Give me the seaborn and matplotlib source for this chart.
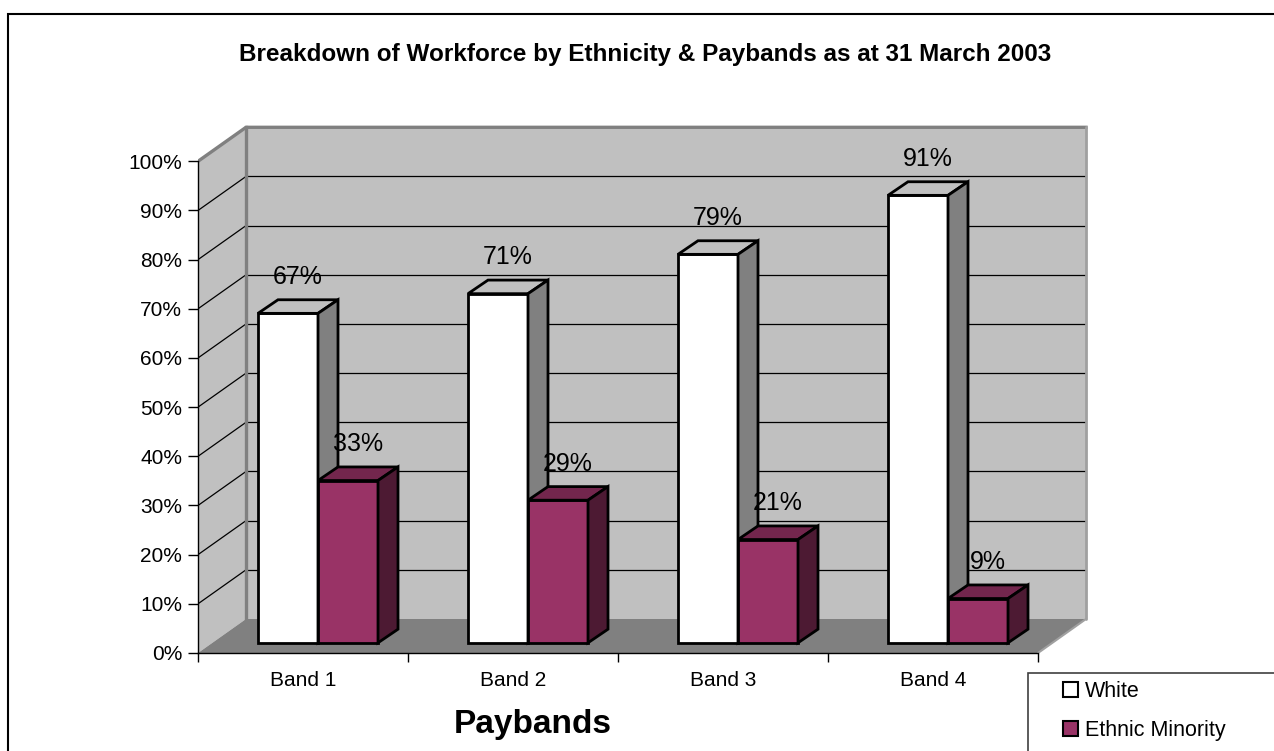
import matplotlib
matplotlib.use("Agg")
import matplotlib.pyplot as plt
import seaborn as sns
import pandas as pd
from matplotlib.patches import Polygon, Rectangle, Patch

# ---------------- data ----------------
bands = ["Band 1", "Band 2", "Band 3", "Band 4"]
series = ["White", "Ethnic Minority"]
white_pct = [67, 71, 79, 91]
minority_pct = [33, 29, 21, 9]
ytick_values = [0, 10, 20, 30, 40, 50, 60, 70, 80, 90, 100]
ytick_labels = [f"{v}%" for v in ytick_values]
title = "Breakdown of Workforce by Ethnicity & Paybands as at 31 March 2003"
xlabel = "Paybands"

df = pd.DataFrame({
    "band": bands * 2,
    "pct": white_pct + minority_pct,
    "group": [series[0]] * len(bands) + [series[1]] * len(bands),
})

front_colors = ["#ffffff", "#993366"]
top_colors = ["#c0c0c0", "#73264d"]
side_colors = ["#808080", "#4d1a33"]

sns.set_style("white")
plt.rcParams["font.family"] = ["Liberation Sans", "DejaVu Sans"]
plt.rcParams["text.color"] = "black"
plt.rcParams["xtick.color"] = "black"
plt.rcParams["ytick.color"] = "black"
plt.rcParams["axes.labelcolor"] = "black"

W, H = 1274, 751
fig = plt.figure(figsize=(W / 100, H / 100), dpi=100)

PX_CAT = 210.0     # pixels per category
PX_PCT = 4.917     # pixels per percent
AX_L, AX_R, AX_B, AX_T = 198, 1100, 653, 110
ax = fig.add_axes([AX_L / W, (H - AX_B) / H, (AX_R - AX_L) / W, (AX_B - AX_T) / H])

# 3D depth offsets in data units
DX = 48 / PX_CAT
DY = 34 / PX_PCT
X0, X1 = -0.5, len(bands) - 0.5
YMAX = ytick_values[-1]

# ---------------- bars via seaborn ----------------
bar_w = 60 / PX_CAT
sns.barplot(data=df, x="band", y="pct", hue="group", order=bands, hue_order=series,
            palette=front_colors, saturation=1, width=2 * bar_w, edgecolor="black",
            linewidth=2, legend=False, ax=ax)

ax.set_xlim(X0, X0 + (AX_R - AX_L) / PX_CAT)
ax.set_ylim(0, (AX_B - AX_T) / PX_PCT)
ax.set_facecolor("none")

# ---------------- walls & floor ----------------
wall_c = "#c0c0c0"
ax.add_patch(Polygon([(X0, 0), (X0, YMAX), (X0 + DX, YMAX + DY), (X0 + DX, DY)],
                     closed=True, facecolor=wall_c, edgecolor="none", zorder=0))
ax.add_patch(Polygon([(X0 + DX, DY), (X1 + DX, DY), (X1 + DX, YMAX + DY), (X0 + DX, YMAX + DY)],
                     closed=True, facecolor=wall_c, edgecolor="none", zorder=0))
ax.add_patch(Polygon([(X0, 0), (X1, 0), (X1 + DX, DY), (X0 + DX, DY)],
                     closed=True, facecolor="#808080", edgecolor="none", zorder=0.5))
for v in ytick_values[1:-1]:
    ax.plot([X0, X0 + DX], [v, v + DY], color="black", lw=0.9, zorder=1)
    ax.plot([X0 + DX, X1 + DX], [v + DY, v + DY], color="black", lw=0.9, zorder=1)
edge_kw = dict(color="#808080", lw=2.4, zorder=1.5, solid_capstyle="projecting")
ax.plot([X0, X0 + DX, X1 + DX], [YMAX, YMAX + DY, YMAX + DY], **edge_kw)
ax.plot([X0 + DX, X0 + DX], [DY, YMAX + DY], **edge_kw)
ax.plot([X1 + DX, X1 + DX], [DY, YMAX + DY], color="#a0a0a0", lw=2.0, zorder=1.5)
ax.plot([X1, X1 + DX], [0, DY], color="#a0a0a0", lw=1.5, zorder=1.5)

# ---------------- 3D faces for bars ----------------
SX, SY = 0.3 * (50 / PX_CAT), 0.3 * DY      # bar front plane position within depth
BDX, BDY = 0.4 * (50 / PX_CAT), 0.4 * DY    # bar depth
z = 3.0
for k, cont in enumerate(ax.containers):
    for rect, val in zip(cont.patches, df[df["group"] == series[k]]["pct"]):
        x0 = rect.get_x() + SX
        w = rect.get_width()
        h = rect.get_height()
        rect.set_x(x0)
        rect.set_y(SY)
        rect.set_zorder(z)
        top = SY + h
        ax.add_patch(Polygon([(x0, top), (x0 + w, top), (x0 + w + BDX, top + BDY), (x0 + BDX, top + BDY)],
                             closed=True, facecolor=top_colors[k], edgecolor="black", lw=2,
                             joinstyle="miter", zorder=z + 0.1))
        ax.add_patch(Polygon([(x0 + w, SY), (x0 + w, top), (x0 + w + BDX, top + BDY), (x0 + w + BDX, SY + BDY)],
                             closed=True, facecolor=side_colors[k], edgecolor="black", lw=2,
                             joinstyle="miter", zorder=z + 0.1))
        ax.text(x0 + w / 2 + BDX / 2, top + BDY + 23 / PX_PCT, f"{val:.0f}%",
                ha="center", va="center", fontsize=18, color="black", zorder=10)
    z += 0.5

# ---------------- axes ----------------
for s in ["top", "right"]:
    ax.spines[s].set_visible(False)
ax.spines["left"].set_bounds(0, YMAX)
ax.spines["bottom"].set_bounds(X0, X1)
for s in ["left", "bottom"]:
    ax.spines[s].set_color("black")
    ax.spines[s].set_linewidth(1.0)
    ax.spines[s].set_zorder(2)

ax.set_yticks(ytick_values, ytick_labels)
ax.set_xticks([X0 + i for i in range(len(bands) + 1)], [""] * (len(bands) + 1))
ax.set_xticks(range(len(bands)), bands, minor=True)
ax.tick_params(axis="y", left=True, direction="out", length=7.2, width=1, color="black",
               labelsize=15, pad=4.3)
ax.tick_params(axis="x", which="major", bottom=True, direction="out", length=6.5, width=1,
               color="black")
ax.tick_params(axis="x", which="minor", bottom=True, length=0, labelsize=15, pad=13)
ax.set_xlabel("")
ax.set_ylabel("")
ax.grid(False)

# ---------------- figure texts ----------------
fig.text(645 / W, 1 - 54 / H, title, ha="center", va="center", fontsize=17.5, fontweight="bold")
fig.text(533 / W, 1 - 725 / H, xlabel, ha="center", va="center", fontsize=24, fontweight="bold")

# outer border
fig.add_artist(Rectangle((8 / W, -20 / H), (1300 - 8) / W, (751 + 20 - 14) / H,
                         transform=fig.transFigure, facecolor="none", edgecolor="black", lw=1.5))
# legend box
fig.add_artist(Rectangle((1028 / W, -20 / H), (1300 - 1028) / W, (751 + 20 - 673) / H,
                         transform=fig.transFigure, facecolor="white", edgecolor="#404040", lw=1.2))
handles = [Patch(facecolor=front_colors[i], edgecolor="black", lw=1.5, label=series[i]) for i in range(2)]
fig.legend(handles=handles, loc="center left", bbox_to_anchor=(1063 / W, 1 - 711 / H),
           frameon=False, fontsize=15.5, handlelength=0.7, handleheight=0.7,
           handletextpad=0.3, labelspacing=0.8, borderpad=0, borderaxespad=0)

fig.savefig("out.png", dpi=100, facecolor="white")
